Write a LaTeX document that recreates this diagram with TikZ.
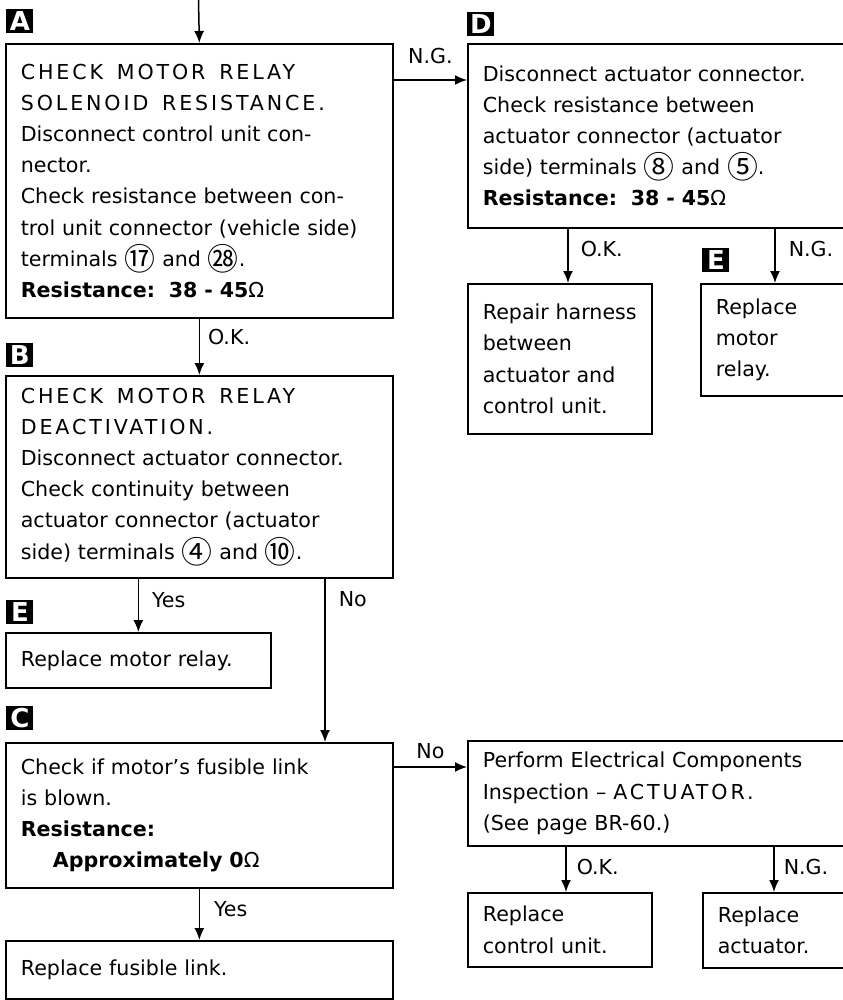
\documentclass[tikz,border=0pt]{standalone}
\usepackage{fontspec}
\setmainfont{DejaVu Sans}
\newfontfamily\cjk[Scale=1.5]{Noto Sans CJK SC}
\usetikzlibrary{arrows.meta, positioning}

\newcommand{\cnum}[1]{\raisebox{-2pt}{\cjk #1}}
\newcommand{\caps}[1]{{\addfontfeatures{LetterSpace=14}#1}}

\begin{document}
\begin{tikzpicture}[
    x=0.5pt, y=-0.5pt,
    font=\fontsize{10.3}{15.6}\selectfont,
    box/.style={draw, line width=0.85pt, anchor=north west, align=left, inner xsep=7.5pt, inner ysep=0pt},
    tag/.style={fill=black, text=white, anchor=north west, inner sep=0pt,
        minimum width=13.5pt, minimum height=12pt, font=\fontsize{13}{13}\selectfont\bfseries},
    lbl/.style={inner sep=1pt},
    fl/.style={-{Latex[length=6pt, width=5pt]}, line width=0.75pt}
]
\useasboundingbox (0,0) rectangle (842,1000);

% ===== LEFT COLUMN =====
\node[tag] (TA) at (6,9) {A};
\node[box, text width=178.5pt, minimum height=137pt] (A) at (5,43)
  {\caps{CHECK\ \ MOTOR\ \ RELAY}\\\caps{SOLENOID\ \ RESISTANCE.}\\Disconnect control unit con-\\nector.\\Check resistance between con-\\trol unit connector (vehicle side)\\terminals \cnum{⑰} and \cnum{㉘}.\\\textbf{Resistance:\ \ 38 - 45}Ω};

\node[tag] (TB) at (6,343) {B};
\node[box, text width=178.5pt, minimum height=101pt] (B) at (5,375)
  {\caps{CHECK\ \ MOTOR\ \ RELAY}\\\caps{DEACTIVATION.}\\Disconnect actuator connector.\\Check continuity between\\actuator connector (actuator\\side) terminals \cnum{④} and \cnum{⑩}.};

\node[tag] (TE1) at (6,600) {E};
\node[box, text width=117.5pt, minimum height=27.5pt] (RELAYL) at (5,632)
  {Replace motor relay.};

\node[tag] (TC) at (6,706) {C};
\node[box, text width=178.5pt, minimum height=72.5pt] (C) at (5,742)
  {Check if motor’s fusible link\\is blown.\\\textbf{Resistance:}\\\hspace*{16pt}\textbf{Approximately 0}Ω};

\node[box, text width=178.5pt, minimum height=29pt] (FUSE) at (5,940)
  {Replace fusible link.};

% ===== RIGHT COLUMN =====
\node[tag] (TD) at (467,12) {D};
\node[box, text width=205pt, minimum height=92pt] (D) at (467,43)
  {Disconnect actuator connector.\\Check resistance between\\actuator connector (actuator\\side) terminals \cnum{⑧} and \cnum{⑤}.\\\textbf{Resistance:\ \ 38 - 45}Ω};

\node[box, text width=77pt, minimum height=75pt] (REPAIR) at (467,283)
  {Repair~harness\\between\\actuator and\\control unit.};

\node[tag] (TE2) at (702,248) {E};
\node[box, text width=85pt, minimum height=56pt] (RELAYR) at (700,283)
  {Replace\\motor\\relay.};

\node[box, text width=205pt, minimum height=52.5pt] (PERF) at (467,740)
  {Perform Electrical Components\\Inspection -- \caps{ACTUATOR.}\\(See page BR-60.)};

\node[box, text width=77pt, minimum height=37pt] (CTRL) at (467,892)
  {Replace\\control unit.};

\node[box, text width=85pt, minimum height=37.5pt] (ACT) at (702,892)
  {Replace\\actuator.};

% ===== CONNECTORS =====
\coordinate (IN) at (198.5,0);
\draw[fl] (IN) -- (A.north);

\draw[fl] ([yshift=-18.5pt]A.north east) -- node[lbl, above=6.5pt] {N.G.} ([yshift=-18.5pt]A.north east -| D.west);
\draw[fl] (A.south) -- node[lbl, right=3pt, pos=0.33] {O.K.} (B.north);

\draw[fl] ([xshift=50.5pt]D.south west) -- node[lbl, right=5pt, pos=0.38] {O.K.} ([xshift=50.5pt]D.south west |- REPAIR.north);
\draw[fl] ([xshift=154pt]D.south west) -- node[lbl, right=5.5pt, pos=0.38] {N.G.} ([xshift=154pt]D.south west |- RELAYR.north);

\draw[fl] (RELAYL.north |- B.south) -- node[lbl, right=5.5pt, pos=0.4] {Yes} (RELAYL.north);
\draw[fl] ([xshift=160pt]B.south west) -- node[lbl, right=5.5pt, pos=0.124] {No} ([xshift=160pt]B.south west |- C.north);

\draw[fl] ([yshift=-12.5pt]C.north east) -- node[lbl, above=2.5pt] {No} ([yshift=-12.5pt]C.north east -| PERF.west);
\draw[fl] (C.south) -- node[lbl, right=6pt, pos=0.39] {Yes} (FUSE.north);

\draw[fl] ([xshift=49.5pt]PERF.south west) -- node[lbl, right=4pt, pos=0.44] {O.K.} ([xshift=49.5pt]PERF.south west |- CTRL.north);
\draw[fl] ([xshift=153.5pt]PERF.south west) -- node[lbl, right=3.5pt, pos=0.44] {N.G.} ([xshift=153.5pt]PERF.south west |- ACT.north);

\end{tikzpicture}
\end{document}
